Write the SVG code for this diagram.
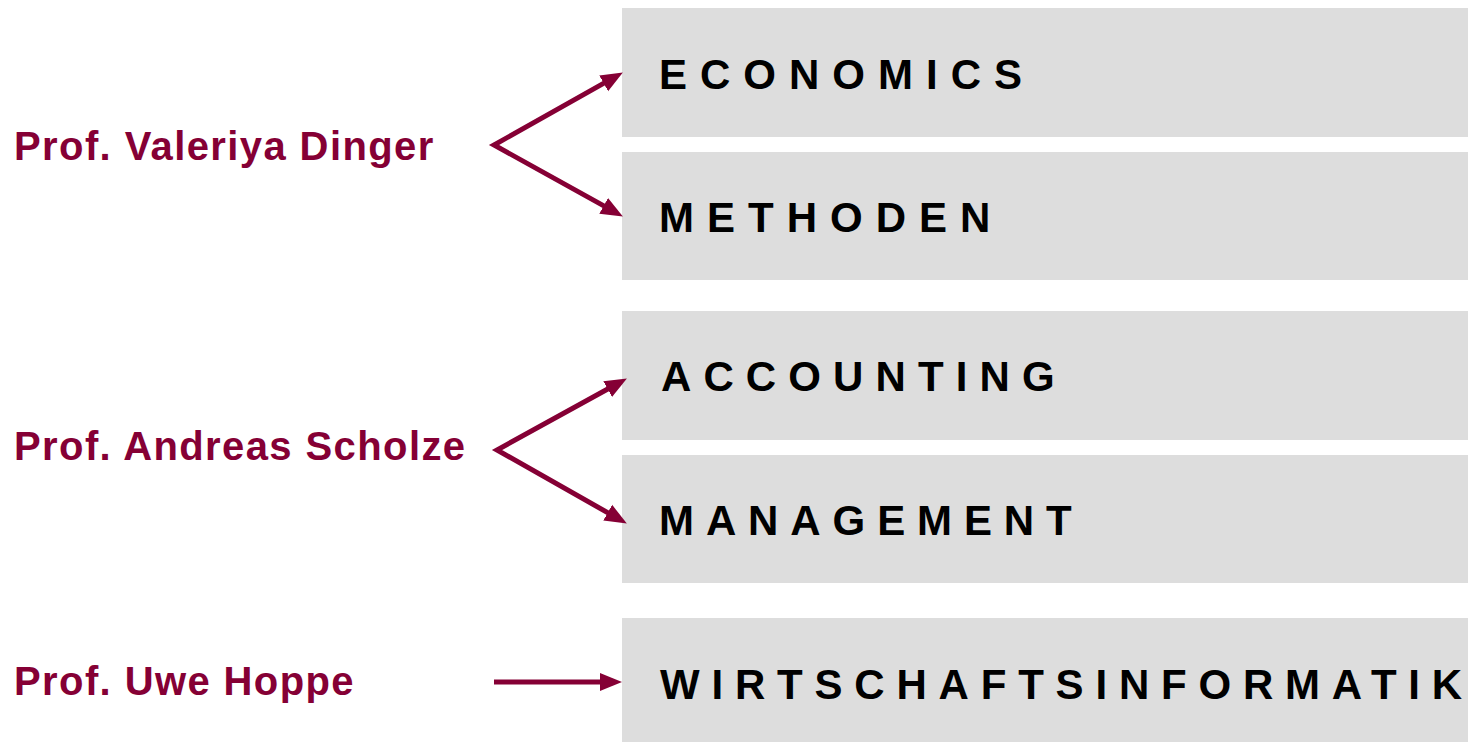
<svg xmlns="http://www.w3.org/2000/svg" width="1468" height="742" viewBox="0 0 1468 742">
  <style>
    .box { fill: #dddddd; }
    .topic { font-family: "Liberation Sans", Arial, sans-serif; font-weight: bold; font-size: 42px; fill: #000000; letter-spacing: 13px; }
    .prof { font-family: "Liberation Sans", Arial, sans-serif; font-weight: bold; font-size: 40px; fill: #850035; letter-spacing: 1.4px; }
    .conn { fill: none; stroke: #850035; stroke-width: 5; stroke-linejoin: miter; stroke-miterlimit: 10; }
  </style>
  <defs>
    <marker id="arrow" markerUnits="userSpaceOnUse" markerWidth="24" markerHeight="20" refX="10" refY="9" orient="auto-start-reverse" viewBox="0 0 24 18">
      <path d="M0,0 L22,9 L0,18 z" fill="#850035"/>
    </marker>
  </defs>
  <rect width="1468" height="742" fill="#ffffff"/>

  <g id="node-economics">
    <rect class="box" x="622" y="8" width="846" height="129"/>
    <text class="topic" x="659" y="88.5">ECONOMIC<tspan style="letter-spacing:0">S</tspan></text>
  </g>
  <g id="node-methoden">
    <rect class="box" x="622" y="152" width="846" height="128"/>
    <text class="topic" x="659" y="232">METHODE<tspan style="letter-spacing:0">N</tspan></text>
  </g>
  <g id="node-accounting">
    <rect class="box" x="622" y="311" width="846" height="129"/>
    <text class="topic" x="661" y="391" style="letter-spacing:12.1px">ACCOUNTIN<tspan style="letter-spacing:0">G</tspan></text>
  </g>
  <g id="node-management">
    <rect class="box" x="622" y="455" width="846" height="128"/>
    <text class="topic" x="659" y="535" style="letter-spacing:11.9px">MANAGEMEN<tspan style="letter-spacing:0">T</tspan></text>
  </g>
  <g id="node-wirtschaftsinformatik">
    <rect class="box" x="622" y="618" width="846" height="124"/>
    <text class="topic" x="660" y="699" style="letter-spacing:11.8px">WIRTSCHAFTSINFORMATI<tspan style="letter-spacing:0">K</tspan></text>
  </g>

  <g id="node-dinger">
    <text class="prof" x="14" y="160">Prof. Valeriya Dinger</text>
  </g>
  <g id="node-scholze">
    <text class="prof" x="14" y="460">Prof. Andreas Scholze</text>
  </g>
  <g id="node-hoppe">
    <text class="prof" x="14" y="695">Prof. Uwe Hoppe</text>
  </g>

  <g id="connectors">
    <path class="conn" d="M612.4,78.4 L494,145 L612.4,210.6" marker-start="url(#arrow)" marker-end="url(#arrow)"/>
    <path class="conn" d="M616.4,384.2 L497,450 L616.4,517.6" marker-start="url(#arrow)" marker-end="url(#arrow)"/>
    <path class="conn" d="M494,682 L610,682" marker-end="url(#arrow)"/>
  </g>
</svg>
